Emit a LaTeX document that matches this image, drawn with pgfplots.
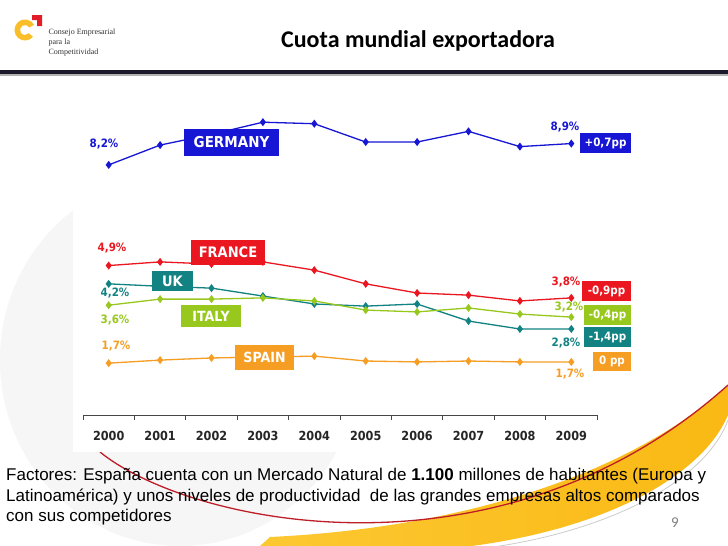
\documentclass[border=0pt]{standalone}
\usepackage{fontspec}
\setmainfont{Liberation Sans}
\newfontfamily\dv[FakeStretch=0.9]{DejaVu Sans}
\newfontfamily\calfont{Carlito}
\newfontfamily\lserif{Liberation Serif}
\usepackage{pgfplots}
\pgfplotsset{compat=1.18}
\definecolor{cde}{RGB}{22,22,212}
\definecolor{cfr}{RGB}{234,22,32}
\definecolor{cuk}{RGB}{18,130,130}
\definecolor{cit}{RGB}{152,200,30}
\definecolor{ces}{RGB}{246,158,36}
\definecolor{barc}{RGB}{28,26,42}
\definecolor{swred}{RGB}{190,30,40}
\definecolor{swy1}{RGB}{252,200,50}
\definecolor{swy2}{RGB}{250,185,20}
\definecolor{logoy}{RGB}{250,190,40}
\definecolor{logor}{RGB}{225,30,40}
\newcommand\fs[1]{\fontsize{#1}{#1}\selectfont}
\begin{document}
\begin{tikzpicture}
\begin{scope}[x=1pt,y=-1pt]
\path[use as bounding box] (0,0) rectangle (728,546);
\fill[white] (0,0) rectangle (728,546);
\fill[gray!7] (180,360) ellipse (180 and 186);
% swoosh
\shade[left color=swy1, right color=swy2]
  (260,546) .. controls (500,575) and (690,505) .. (728,415) -- (728,385) .. controls (630,475) and (460,528) .. (270,537) -- cycle;
\draw[gray!40, line width=0.8pt] (290,546) .. controls (500,578) and (695,510) .. (728,420);
\draw[swred, line width=1.3pt] (100,452) .. controls (190,525) and (500,590) .. (728,385);
\fill[white] (73,88) rectangle (615,452);
% header
\fill[barc] (0,70) rectangle (728,74);
\fill[gray!60] (0,74) rectangle (728,75.5);
\node[font=\calfont\bfseries\fs{24}, anchor=base] at (418,47) {Cuota mundial exportadora};
% logo
\fill[logoy] (25,30) ++(40:10.5) arc (40:330:10.5) -- ++(150:5.5) arc (330:40:5) -- cycle;
\fill[logor] (32,15) -- (42,15) -- (42,26) -- (37,26) -- (37,20) -- (32,20) -- cycle;
\node[font=\lserif\fs{8}, anchor=base west, text=black!80] at (45,34) {Consejo Empresarial};
\node[font=\lserif\fs{8}, anchor=base west, text=black!80] at (45,44) {para la};
\node[font=\lserif\fs{8}, anchor=base west, text=black!80] at (45,54) {Competitividad};
% bottom text
\node[font=\fs{17}, anchor=base west, inner sep=0] at (6,480) {Factores: España cuenta con un Mercado Natural de \textbf{1.100} millones de habitantes (Europa y};
\node[font=\fs{17}, anchor=base west, inner sep=0] at (6,501) {Latinoamérica) y unos niveles de productividad\ \ de las grandes empresas altos comparados};
\node[font=\fs{17}, anchor=base west, inner sep=0] at (6,521) {con sus competidores};
\node[font=\calfont\fs{15}, anchor=base, text=gray, inner sep=0] at (675,527) {9};
\end{scope}
\begin{axis}[
  at={(83pt,-415pt)}, anchor=south west,
  scale only axis, width=514pt, height=305pt,
  xmin=-0.5, xmax=9.5, ymin=0, ymax=10,
  axis y line=none, axis x line*=bottom,
  x axis line style={gray!55!black, line width=1pt},
  xtick={0,1,2,3,4,5,6,7,8,9},
  xticklabels={2000,2001,2002,2003,2004,2005,2006,2007,2008,2009},
  minor xtick={-0.5,0.5,1.5,2.5,3.5,4.5,5.5,6.5,7.5,8.5,9.5},
  major tick length=0pt, minor tick length=5pt, tick align=outside,
  minor tick style={gray!55!black, line width=0.8pt},
  xticklabel style={font=\dv\bfseries\fs{12.5}, text=black!85, yshift=-13pt},
  clip=false,
  every axis plot/.append style={line width=1.3pt, mark=diamond*, mark size=3pt, mark options={solid}},
]
\addplot[cde] coordinates {(0,8.2)(1,8.85)(2,9.2)(3,9.6)(4,9.55)(5,8.95)(6,8.95)(7,9.3)(8,8.8)(9,8.9)};
\addplot[cfr] coordinates {(0,4.9)(1,5.02)(2,4.95)(3,5.02)(4,4.75)(5,4.3)(6,4.0)(7,3.93)(8,3.74)(9,3.84)};
\addplot[cuk] coordinates {(0,4.3)(1,4.22)(2,4.16)(3,3.9)(4,3.64)(5,3.57)(6,3.64)(7,3.08)(8,2.82)(9,2.82)};
\addplot[cit] coordinates {(0,3.6)(1,3.8)(2,3.8)(3,3.84)(4,3.74)(5,3.44)(6,3.38)(7,3.51)(8,3.31)(9,3.21)};
\addplot[ces] coordinates {(0,1.7)(1,1.8)(2,1.87)(3,1.9)(4,1.93)(5,1.77)(6,1.74)(7,1.77)(8,1.74)(9,1.74)};
\end{axis}
\begin{scope}[x=1pt,y=-1pt, every node/.style={inner sep=0}]
% country boxes
\node[fill=cde, text=white, font=\dv\bfseries\fs{15}, minimum width=95pt, minimum height=27pt] at (231.5,142.5) {GERMANY};
\node[fill=cfr, text=white, font=\dv\bfseries\fs{14.5}, minimum width=74pt, minimum height=25pt] at (228,252.5) {FRANCE};
\node[fill=cuk, text=white, font=\dv\bfseries\fs{14.5}, minimum width=41pt, minimum height=20pt] at (172.5,281) {UK};
\node[fill=cit, text=white, font=\dv\bfseries\fs{14}, minimum width=60pt, minimum height=22pt] at (211,316) {ITALY};
\node[fill=ces, text=white, font=\dv\bfseries\fs{14}, minimum width=59pt, minimum height=25pt] at (264.5,357.5) {SPAIN};
% change boxes
\node[fill=cde, text=white, font=\dv\bfseries\fs{11.5}, minimum width=51pt, minimum height=20pt] at (605.5,143) {+0,7pp};
\node[fill=cfr, text=white, font=\dv\bfseries\fs{11.5}, minimum width=49pt, minimum height=20pt] at (606.5,291) {-0,9pp};
\node[fill=cit, text=white, font=\dv\bfseries\fs{11.5}, minimum width=47pt, minimum height=20pt] at (607.5,315) {-0,4pp};
\node[fill=cuk, text=white, font=\dv\bfseries\fs{11.5}, minimum width=47pt, minimum height=20pt] at (607.5,337) {-1,4pp};
\node[fill=ces, text=white, font=\dv\bfseries\fs{11.5}, minimum width=38pt, minimum height=19pt] at (612,361.5) {0 pp};
% value labels
\node[text=cde, font=\dv\bfseries\fs{11.5}] at (104,144) {8,2\%};
\node[text=cde, font=\dv\bfseries\fs{11.5}] at (565,127) {8,9\%};
\node[text=cfr, font=\dv\bfseries\fs{11.5}] at (112,248) {4,9\%};
\node[text=cfr, font=\dv\bfseries\fs{11.5}] at (566,282) {3,8\%};
\node[text=cuk, font=\dv\bfseries\fs{11.5}] at (115,293) {4,2\%};
\node[text=cuk, font=\dv\bfseries\fs{11.5}] at (566,343) {2,8\%};
\node[text=cit, font=\dv\bfseries\fs{11.5}] at (115,320) {3,6\%};
\node[text=cit, font=\dv\bfseries\fs{11.5}] at (569,307) {3,2\%};
\node[text=ces, font=\dv\bfseries\fs{11.5}] at (116,346) {1,7\%};
\node[text=ces, font=\dv\bfseries\fs{11.5}] at (570,374) {1,7\%};
\end{scope}
\end{tikzpicture}
\end{document}
